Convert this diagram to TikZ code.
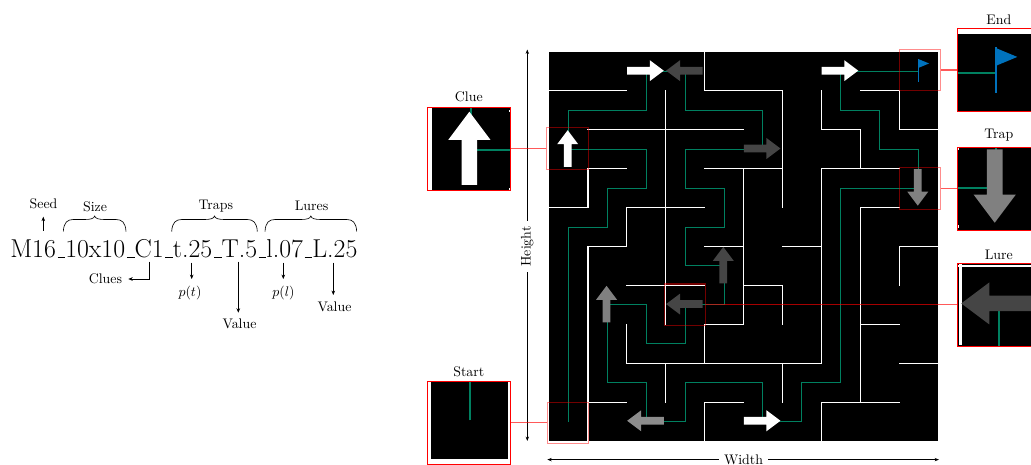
\documentclass[tikz,border=0pt]{standalone}
\usetikzlibrary{arrows.meta}
\newcommand\uscore{\leavevmode\kern.06em\vbox{\hrule width.3em}}
\definecolor{routegreen}{RGB}{0,128,96}
\definecolor{flagblue}{RGB}{0,114,189}
\definecolor{darkarrow}{gray}{0.27}
\definecolor{midarrow}{gray}{0.5}
\tikzset{
  wall/.style={white, line width=0.86pt, line cap=rect},
  routeline/.style={draw=routegreen, line width=0.72pt},
  annot/.style={black, line width=0.4pt, -{Stealth[length=3.2pt,width=2.6pt]}},
  dimline/.style={black, line width=0.4pt, {Stealth[length=3.2pt,width=2.4pt]}-{Stealth[length=3.2pt,width=2.4pt]}},
  bracestyle/.style={black, line width=0.45pt},
  hlbox/.style={draw=red, draw opacity=0.45, line width=0.75pt, minimum size=29.83pt, inner sep=0pt},
  insetbox/.style={draw=red, line width=0.8pt, minimum size=59.76pt, inner sep=0pt},
  conn/.style={red, draw opacity=0.65, line width=0.75pt},
  lbl/.style={inner sep=0pt, font=\normalsize},
}
% block arrow: col,row,angle,colour
\newcommand\blockarrow[4]{%
  \fill[#4,shift={(#1+0.48,#2+0.48)},rotate=#3]
    (-0.47,-0.1) -- (0.11,-0.1) -- (0.11,-0.27) -- (0.47,0) -- (0.11,0.27) -- (0.11,0.1) -- (-0.47,0.1) -- cycle;}
\newcommand\mazebody{%
  \fill[black] (0,0) rectangle (10,10);
  \draw[wall]
   (0,1)--(2,1) (4,1)--(6,1) (8,1)--(9,1)
   (1,2)--(5,2) (7,2)--(8,2) (9,2)--(10,2)
   (1,3)--(2,3) (4,3)--(6,3) (7,3)--(9,3)
   (0,4)--(1,4) (2,4)--(4,4) (8,4)--(9,4)
   (1,5)--(2,5) (4,5)--(5,5) (6,5)--(7,5) (9,5)--(10,5)
   (2,6)--(4,6) (5,6)--(6,6)
   (4,7)--(5,7) (8,7)--(9,7)
   (2,8)--(7,8) (9,8)--(10,8)
   (1,9)--(2,9) (4,9)--(5,9) (7,9)--(9,9)
   (1,3)--(1,4) (1,5)--(1,10) (2,4)--(2,5) (2,7)--(2,8)
   (3,1)--(3,7) (3,8)--(3,9)
   (4,0)--(4,1) (4,7)--(4,8) (4,9)--(4,10)
   (5,3)--(5,7) (6,1)--(6,4) (6,6)--(6,7) (6,8)--(6,9)
   (7,1)--(7,2) (7,3)--(7,8) (7,9)--(7,10)
   (8,2)--(8,3) (8,4)--(8,9)
   (9,1)--(9,2) (9,5)--(9,6);
  \draw[routeline] (0.5,9.5) -- (0.5,4.5) -- (1.5,4.5) -- (1.5,3.5) -- (2.5,3.5) -- (2.5,2.5)
   -- (0.5,2.5) -- (0.5,1.5) -- (2.5,1.5) -- (2.5,0.5) -- (3.5,0.5) -- (3.5,1.5) -- (5.5,1.5)
   -- (5.5,2.5) -- (3.5,2.5) -- (3.5,3.5) -- (4.5,3.5) -- (4.5,4.5) -- (3.5,4.5) -- (3.5,5.5)
   -- (4.5,5.5) -- (4.5,6.5) -- (3.5,6.5) -- (3.5,7.5) -- (2.5,7.5) -- (2.5,6.5) -- (1.5,6.5)
   -- (1.5,8.5) -- (2.5,8.5) -- (2.5,9.5) -- (3.5,9.5) -- (3.5,8.5) -- (5.5,8.5) -- (5.5,9.5)
   -- (6.5,9.5) -- (6.5,8.5) -- (7.5,8.5) -- (7.5,3.5) -- (9.5,3.5) -- (9.5,2.5) -- (8.5,2.5)
   -- (8.5,1.5) -- (7.5,1.5) -- (7.5,0.5) -- (9.5,0.5);
  \blockarrow{2}{0}{0}{white}
  \blockarrow{3}{0}{180}{darkarrow}
  \blockarrow{7}{0}{0}{white}
  \blockarrow{0}{2}{90}{white}
  \blockarrow{5}{2}{0}{darkarrow}
  \blockarrow{9}{3}{-90}{midarrow}
  \blockarrow{4}{5}{90}{darkarrow}
  \blockarrow{1}{6}{90}{midarrow}
  \blockarrow{3}{6}{180}{darkarrow}
  \blockarrow{2}{9}{180}{gray!90}
  \blockarrow{5}{9}{0}{white}
  \fill[flagblue] (9.478,0.17) rectangle (9.51,0.76);
  \fill[flagblue] (9.505,0.185) -- (9.77,0.295) -- (9.505,0.405) -- cycle;
}
\newcommand\mazeat{\begin{scope}[shift={(549,52)},x=28.008pt,y=-28.008pt]\mazebody\end{scope}}
% inset: TL x, TL y, box TL x, box TL y (pixels)
\newcommand\insetview[4]{%
  \begin{scope}
    \clip (#1,#2) rectangle ++(83,83);
    \fill[white] (#1,#2) rectangle ++(83,83);
    \begin{scope}[transform canvas={shift={(#1,#2)},scale=2.00338,shift={(-#3,-#4)}}]
      \mazeat
    \end{scope}
  \end{scope}}
\newcommand\hbrace[3]{%
  \draw[bracestyle] (#1,#3) .. controls ({#1+0.5},{#3-9}) and ({#1+4},{#3-12}) .. ({#1+10},{#3-12})
   -- ({(#1+#2)/2-10},{#3-12}) .. controls ({(#1+#2)/2-4},{#3-12}) and ({(#1+#2)/2-0.5},{#3-13}) .. ({(#1+#2)/2},{#3-15.5})
   .. controls ({(#1+#2)/2+0.5},{#3-13}) and ({(#1+#2)/2+4},{#3-12}) .. ({(#1+#2)/2+10},{#3-12})
   -- ({#2-10},{#3-12}) .. controls ({#2-4},{#3-12}) and ({#2-0.5},{#3-9}) .. (#2,#3);}
\begin{document}
\begin{tikzpicture}[x=0.72pt,y=-0.72pt]
\useasboundingbox (0,0) rectangle (1031,465);
% ---------- name code ----------
\node[anchor=base west, inner sep=0pt, font=\fontsize{18.6}{22}\selectfont] (code) at (10,257.7)
  {M16\uscore 10x10\uscore C1\uscore t.25\uscore T.5\uscore l.07\uscore L.25};
\node[lbl, anchor=base] (size) at (95,211.2) {Size};
\node[lbl, anchor=base] (traps) at (215.8,209.5) {Traps};
\node[lbl, anchor=base] (lures) at (311.5,210.2) {Lures};
\hbrace{63.3}{126}{231.5}
\hbrace{171.7}{257.3}{231.5}
\hbrace{265}{356.7}{231.5}
\node[lbl, anchor=south, inner ysep=5.3pt] (seed) at (43.5,216.7) {Seed};
\coordinate (seedA) at (43.3,230.5);
\draw[annot] (seedA) -- (seedA |- seed.south);
\node[lbl, anchor=east, inner xsep=4.3pt] (clues) at (128.3,279) {Clues};
\coordinate (cluesA) at (149,261.7);
\draw[annot] (cluesA) |- (clues.east);
\node[lbl, anchor=north, inner ysep=5pt] (pt) at (190,279) {$p(t)$};
\coordinate (ptA) at (191.7,262.7);
\draw[annot] (ptA) -- (ptA |- pt.north);
\node[lbl, anchor=north, inner ysep=4pt] (valt) at (239.5,312.7) {Value};
\coordinate (valtA) at (238.3,261.7);
\draw[annot] (valtA) -- (valtA |- valt.north);
\node[lbl, anchor=north, inner ysep=5pt] (pl) at (283.5,279) {$p(l)$};
\coordinate (plA) at (283.3,262.7);
\draw[annot] (plA) -- (plA |- pl.north);
\node[lbl, anchor=north, inner ysep=4.8pt] (vall) at (334.5,295) {Value};
\coordinate (vallA) at (333.3,262.7);
\draw[annot] (vallA) -- (vallA |- vall.north);
% ---------- maze ----------
\mazeat
% dimensions
\coordinate (hbot) at (527.3,441);
\coordinate (htop) at (527.3,49.5);
\draw[dimline] (hbot) -- (htop);
\node[rotate=90, fill=white, inner xsep=4pt, inner ysep=1pt] (hlabel) at (527.3,246.5) {Height};
\coordinate (wleft) at (547.3,459.6);
\coordinate (wright) at (939,459.6);
\draw[dimline] (wleft) -- (wright);
\node[fill=white, inner xsep=3.8pt, inner ysep=1pt] (wlabel) at (743.5,459.6) {Width};
% highlight boxes
\node[hlbox] (cluebox) at (567.38,148.57) {};
\node[hlbox] (startbox) at (567.77,422.82) {};
\node[hlbox] (endbox) at (919.82,69.99) {};
\node[hlbox] (trapbox) at (919.82,188.64) {};
\node[hlbox] (lurebox) at (684.81,304.71) {};
% insets
\insetview{427.3}{107.07}{546.67}{127.86}
\insetview{427.3}{381.32}{547.06}{402.11}
\insetview{957.3}{28.49}{899.10}{49.28}
\insetview{957.3}{147.14}{899.10}{167.93}
\insetview{957.3}{263.21}{664.1}{284.0}
\node[insetbox] (clueinset) at (468.8,148.57) {};
\node[insetbox] (startinset) at (468.8,422.82) {};
\node[insetbox] (endinset) at (998.8,69.99) {};
\node[insetbox] (trapinset) at (998.8,188.64) {};
\node[insetbox] (lureinset) at (998.8,304.71) {};
\draw[conn] (cluebox.west) -- (cluebox.west -| clueinset.east);
\draw[conn] (startbox.west) -- (startbox.west -| startinset.east);
\draw[conn] (endbox.east) -- (endbox.east -| endinset.west);
\draw[conn] (trapbox.east) -- (trapbox.east -| trapinset.west);
\draw[conn] (lurebox.east) -- (lurebox.east -| lureinset.west);
\node[lbl, anchor=base] (cluelbl) at (468.8,101.5) {Clue};
\node[lbl, anchor=base] (startlbl) at (468.8,376.7) {Start};
\node[lbl, anchor=base] (endlbl) at (998.8,24) {End};
\node[lbl, anchor=base] (traplbl) at (998.8,138.3) {Trap};
\node[lbl, anchor=base] (lurelbl) at (998.8,259) {Lure};
\end{tikzpicture}
\end{document}
